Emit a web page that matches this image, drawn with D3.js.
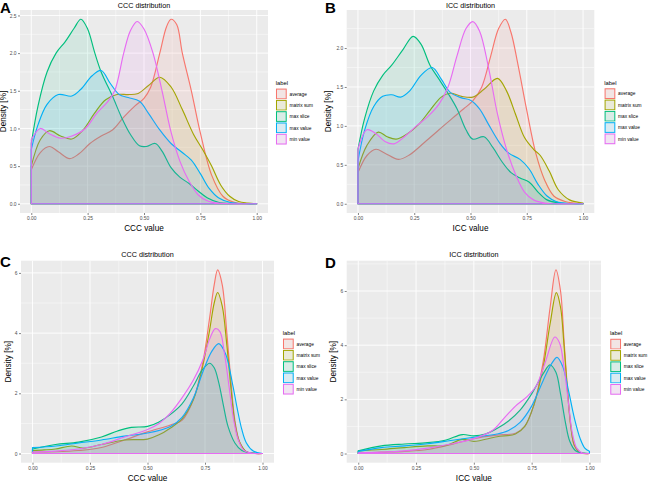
<!DOCTYPE html>
<html><head><meta charset="utf-8">
<script src="https://cdn.jsdelivr.net/npm/d3@7"></script>
<style>body{margin:0;background:#fff}svg{display:block}text{font-family:"Liberation Sans",Arial,sans-serif}</style>
</head><body><svg id="c" width="650" height="481"></svg>
<script>
// ---------------- data ----------------
const labels = ["average", "matrix sum", "max slice", "max value", "min value"];
const colors = ["#F8766D", "#A3A500", "#00BF7D", "#00B0F6", "#E76BF3"];
const xTicks = [0, 0.25, 0.5, 0.75, 1];
const xTickLabels = ["0.00", "0.25", "0.50", "0.75", "1.00"];
const yTicksA = [0, 0.5, 1, 1.5, 2, 2.5];
const yTicksB = [0, 0.5, 1, 1.5, 2];
const yTicksC = [0, 2, 4, 6];
const yTicksD = [0, 2, 4, 6];

// Panel A: CCC distribution  [value, density]
const A_average = [[0,0.45],[0.04,0.68],[0.08,0.76],[0.12,0.69],[0.17,0.6],[0.21,0.66],[0.26,0.8],[0.31,0.9],[0.36,0.98],[0.41,1.15],[0.46,1.3],[0.5,1.4],[0.53,1.55],[0.57,2.0],[0.6,2.35],[0.62,2.45],[0.645,2.38],[0.67,2.0],[0.71,1.5],[0.75,0.94],[0.8,0.38],[0.85,0.1],[0.9,0.02],[1,0]];
const A_matrix = [[0,0.5],[0.04,0.85],[0.08,0.97],[0.13,0.9],[0.18,0.86],[0.23,0.98],[0.28,1.2],[0.33,1.38],[0.38,1.45],[0.43,1.45],[0.47,1.46],[0.52,1.57],[0.57,1.68],[0.62,1.55],[0.67,1.25],[0.72,0.92],[0.76,0.72],[0.8,0.5],[0.84,0.25],[0.88,0.1],[0.92,0.03],[0.96,0.01],[1,0]];
const A_maxslice = [[0,0.8],[0.03,1.3],[0.07,1.75],[0.11,2.0],[0.15,2.15],[0.19,2.33],[0.22,2.45],[0.25,2.32],[0.28,2.02],[0.31,1.75],[0.36,1.43],[0.4,1.15],[0.44,0.92],[0.48,0.77],[0.51,0.76],[0.55,0.8],[0.58,0.7],[0.62,0.48],[0.66,0.35],[0.7,0.27],[0.74,0.17],[0.78,0.08],[0.83,0.02],[0.9,0.003],[1,0]];
const A_maxvalue = [[0,0.72],[0.03,1.05],[0.07,1.32],[0.12,1.45],[0.18,1.43],[0.22,1.52],[0.27,1.7],[0.31,1.77],[0.35,1.6],[0.39,1.45],[0.43,1.41],[0.48,1.36],[0.52,1.2],[0.57,0.98],[0.62,0.8],[0.67,0.68],[0.71,0.58],[0.75,0.4],[0.79,0.2],[0.83,0.08],[0.88,0.02],[0.95,0],[1,0]];
const A_minvalue = [[0,0.85],[0.04,1.0],[0.08,0.93],[0.13,0.87],[0.18,0.9],[0.24,1.0],[0.29,1.2],[0.34,1.36],[0.37,1.5],[0.41,2.0],[0.44,2.3],[0.47,2.42],[0.5,2.32],[0.54,2.0],[0.58,1.5],[0.62,0.95],[0.66,0.56],[0.7,0.3],[0.74,0.12],[0.78,0.04],[0.83,0.008],[1,0]];

// Panel B: ICC distribution
const B_average = [[0,0.4],[0.04,0.62],[0.08,0.7],[0.12,0.65],[0.18,0.57],[0.23,0.63],[0.3,0.8],[0.36,0.95],[0.42,1.1],[0.47,1.22],[0.51,1.32],[0.55,1.5],[0.59,1.9],[0.625,2.25],[0.655,2.37],[0.68,2.2],[0.71,1.8],[0.75,1.2],[0.79,0.65],[0.83,0.3],[0.87,0.1],[0.92,0.03],[1,0]];
const B_matrix = [[0,0.45],[0.04,0.75],[0.09,0.92],[0.13,0.86],[0.17,0.83],[0.22,0.9],[0.27,1.02],[0.32,1.2],[0.37,1.37],[0.41,1.42],[0.46,1.38],[0.51,1.37],[0.56,1.47],[0.62,1.61],[0.66,1.45],[0.7,1.15],[0.74,0.85],[0.78,0.7],[0.81,0.62],[0.85,0.42],[0.89,0.18],[0.94,0.05],[1,0.01]];
const B_maxslice = [[0,0.7],[0.03,1.1],[0.07,1.45],[0.11,1.65],[0.15,1.78],[0.2,1.98],[0.245,2.15],[0.28,2.05],[0.32,1.78],[0.36,1.6],[0.4,1.42],[0.44,1.22],[0.48,0.95],[0.51,0.83],[0.56,0.86],[0.6,0.72],[0.64,0.54],[0.68,0.4],[0.72,0.33],[0.76,0.28],[0.8,0.15],[0.84,0.05],[0.9,0.01],[1,0]];
const B_maxvalue = [[0,0.55],[0.03,0.95],[0.07,1.25],[0.11,1.38],[0.15,1.4],[0.19,1.37],[0.23,1.45],[0.28,1.65],[0.33,1.75],[0.37,1.6],[0.41,1.43],[0.46,1.36],[0.5,1.33],[0.54,1.22],[0.58,1.02],[0.63,0.78],[0.67,0.65],[0.72,0.57],[0.76,0.45],[0.8,0.25],[0.84,0.1],[0.88,0.03],[0.95,0],[1,0]];
const B_minvalue = [[0,0.7],[0.04,0.95],[0.08,0.9],[0.12,0.8],[0.16,0.77],[0.21,0.87],[0.26,1.0],[0.31,1.12],[0.36,1.28],[0.4,1.5],[0.44,1.9],[0.48,2.25],[0.51,2.34],[0.54,2.22],[0.58,1.75],[0.62,1.15],[0.66,0.7],[0.7,0.38],[0.74,0.15],[0.78,0.05],[0.83,0.01],[1,0]];

// Panel C: CCC distribution
const C_average = [[0,0.05],[0.1,0.06],[0.2,0.1],[0.3,0.2],[0.4,0.45],[0.5,0.72],[0.6,0.95],[0.65,1.1],[0.7,1.8],[0.74,3.0],[0.77,4.5],[0.79,5.6],[0.805,6.1],[0.825,5.6],[0.845,4.0],[0.865,2.2],[0.88,1.1],[0.9,0.4],[0.93,0.06],[0.97,0],[1,0]];
const C_matrix = [[0,0.1],[0.05,0.12],[0.1,0.15],[0.17,0.25],[0.22,0.18],[0.3,0.3],[0.4,0.45],[0.5,0.48],[0.55,0.62],[0.6,0.85],[0.65,1.15],[0.7,1.8],[0.74,2.9],[0.77,4.1],[0.79,5.0],[0.805,5.35],[0.825,4.9],[0.845,3.6],[0.865,2.0],[0.88,1.0],[0.9,0.38],[0.93,0.06],[0.97,0],[1,0]];
const C_maxslice = [[0,0.15],[0.1,0.3],[0.2,0.38],[0.3,0.55],[0.37,0.75],[0.43,0.87],[0.5,0.9],[0.55,1.05],[0.6,1.3],[0.65,1.65],[0.7,2.25],[0.74,2.8],[0.77,3.0],[0.79,2.85],[0.81,2.35],[0.83,1.6],[0.85,0.9],[0.88,0.35],[0.91,0.1],[0.95,0.02],[1,0]];
const C_maxvalue = [[0,0.2],[0.1,0.25],[0.2,0.35],[0.3,0.45],[0.4,0.58],[0.5,0.68],[0.6,0.9],[0.65,1.2],[0.7,1.85],[0.74,2.7],[0.78,3.4],[0.81,3.65],[0.84,3.3],[0.87,2.3],[0.89,1.5],[0.91,0.8],[0.93,0.35],[0.96,0.08],[1,0]];
const C_minvalue = [[0,0.05],[0.1,0.08],[0.2,0.15],[0.3,0.3],[0.4,0.55],[0.5,0.8],[0.55,1.0],[0.6,1.35],[0.65,1.85],[0.7,2.45],[0.74,3.1],[0.77,3.8],[0.795,4.15],[0.815,4.05],[0.835,3.3],[0.855,2.2],[0.875,1.1],[0.895,0.45],[0.92,0.1],[0.96,0.01],[1,0]];

// Panel D: ICC distribution
const D_average = [[0,0.02],[0.1,0.05],[0.2,0.08],[0.3,0.15],[0.4,0.33],[0.5,0.55],[0.6,0.68],[0.68,0.75],[0.72,1.0],[0.76,1.8],[0.8,3.4],[0.83,5.4],[0.855,6.78],[0.875,6.0],[0.89,4.2],[0.905,2.4],[0.92,1.0],[0.935,0.3],[0.96,0.04],[1,0]];
const D_matrix = [[0,0.1],[0.1,0.15],[0.2,0.22],[0.3,0.28],[0.38,0.3],[0.45,0.52],[0.5,0.45],[0.6,0.62],[0.68,0.72],[0.72,1.0],[0.76,1.8],[0.8,3.2],[0.83,4.8],[0.857,5.94],[0.875,5.4],[0.89,4.0],[0.905,2.3],[0.92,0.95],[0.935,0.3],[0.96,0.04],[1,0]];
const D_maxslice = [[0,0.1],[0.1,0.28],[0.2,0.35],[0.3,0.4],[0.38,0.5],[0.45,0.7],[0.5,0.65],[0.55,0.72],[0.6,0.92],[0.65,1.2],[0.7,1.6],[0.75,2.2],[0.8,2.95],[0.83,3.27],[0.855,3.0],[0.875,2.2],[0.895,1.2],[0.915,0.45],[0.94,0.1],[0.97,0.02],[1,0]];
const D_maxvalue = [[0,0.08],[0.1,0.22],[0.2,0.28],[0.3,0.36],[0.4,0.48],[0.5,0.6],[0.6,0.72],[0.65,0.85],[0.7,1.15],[0.75,1.75],[0.8,2.7],[0.835,3.3],[0.86,3.55],[0.885,3.2],[0.91,2.3],[0.935,1.3],[0.96,0.55],[0.98,0.2],[1,0.08]];
const D_minvalue = [[0,0.03],[0.1,0.05],[0.2,0.1],[0.3,0.2],[0.4,0.35],[0.5,0.55],[0.58,0.85],[0.63,1.3],[0.68,1.75],[0.73,2.1],[0.77,2.5],[0.81,3.4],[0.85,4.3],[0.87,4.1],[0.89,3.2],[0.91,1.8],[0.925,0.8],[0.945,0.2],[0.97,0.02],[1,0]];

// ---------------- layout ----------------
const panels = [
  {letter:"A", title:"CCC distribution", xlab:"CCC value", series:[A_average,A_matrix,A_maxslice,A_maxvalue,A_minvalue], yTicks:yTicksA, yFmt:d3.format(".1f"),
   box:[20,268,10,213], ox:0, titleY:8, xlabY:231, ylabX:6, leg:[275.7,88.3], letterY:12.5},
  {letter:"B", title:"ICC distribution", xlab:"ICC value", series:[B_average,B_matrix,B_maxslice,B_maxvalue,B_minvalue], yTicks:yTicksB, yFmt:d3.format(".1f"),
   box:[346.7,594.3,10,213], ox:325, titleY:8, xlabY:231, ylabX:331, leg:[604.3,88], letterY:12.5},
  {letter:"C", title:"CCC distribution", xlab:"CCC value", series:[C_average,C_matrix,C_maxslice,C_maxvalue,C_minvalue], yTicks:yTicksC, yFmt:d3.format("d"),
   box:[21,274,260.7,462.7], ox:0, titleY:257, xlabY:480.5, ylabX:11, leg:[282.7,338.3], letterY:267},
  {letter:"D", title:"ICC distribution", xlab:"ICC value", series:[D_average,D_matrix,D_maxslice,D_maxvalue,D_minvalue], yTicks:yTicksD, yFmt:d3.format("d"),
   box:[346.7,601,260.7,462.7], ox:325, titleY:257, xlabY:480.5, ylabX:336, leg:[610,338.5], letterY:267.5}
];

const svg = d3.select("#c");

panels.forEach(p => {
  const [x0,x1,y0,y1] = p.box;
  const ymax = d3.max(p.series, s => d3.max(s, d => d[1]));
  const x = d3.scaleLinear().domain([-0.05, 1.05]).range([x0, x1]);
  const y = d3.scaleLinear().domain([-0.05*ymax, ymax*1.05]).range([y1, y0]);
  const g = svg.append("g");

  g.append("rect").attr("x",x0).attr("y",y0).attr("width",x1-x0).attr("height",y1-y0).attr("fill","#EBEBEB");

  const xMinor = xTicks.slice(1).map((t,i)=> (t+xTicks[i])/2);
  const step = p.yTicks[1]-p.yTicks[0];
  const yMinor = p.yTicks.map(t=>t+step/2).filter(v=>v<y.domain()[1]);
  g.selectAll(".xmin").data(xMinor).join("line").attr("x1",d=>x(d)).attr("x2",d=>x(d)).attr("y1",y0).attr("y2",y1).attr("stroke","#fff").attr("stroke-width",0.45);
  g.selectAll(".ymin").data(yMinor).join("line").attr("y1",d=>y(d)).attr("y2",d=>y(d)).attr("x1",x0).attr("x2",x1).attr("stroke","#fff").attr("stroke-width",0.45);
  g.selectAll(".xmaj").data(xTicks).join("line").attr("x1",d=>x(d)).attr("x2",d=>x(d)).attr("y1",y0).attr("y2",y1).attr("stroke","#fff").attr("stroke-width",0.9);
  g.selectAll(".ymaj").data(p.yTicks).join("line").attr("y1",d=>y(d)).attr("y2",d=>y(d)).attr("x1",x0).attr("x2",x1).attr("stroke","#fff").attr("stroke-width",0.9);

  const area = d3.area().x(d=>x(d[0])).y0(y(0)).y1(d=>y(Math.max(0,d[1]))).curve(d3.curveCatmullRom.alpha(0.5));
  p.series.forEach((s,i) => {
    g.append("path").attr("d", area(s)).attr("fill", colors[i]).attr("fill-opacity",0.1)
      .attr("stroke", colors[i]).attr("stroke-width",1.15).attr("stroke-linejoin","round");
  });

  const xa = g.append("g").attr("transform",`translate(0,${y1})`)
    .call(d3.axisBottom(x).tickValues(xTicks).tickFormat((d,i)=>xTickLabels[i]).tickSize(2).tickPadding(1.5));
  const ya = g.append("g").attr("transform",`translate(${x0},0)`)
    .call(d3.axisLeft(y).tickValues(p.yTicks).tickFormat(p.yFmt).tickSize(2).tickPadding(1.5));
  [xa,ya].forEach(a=>{
    a.select(".domain").remove();
    a.selectAll(".tick line").attr("stroke","#333").attr("stroke-width",0.6);
    a.selectAll(".tick text").attr("fill","#4D4D4D").style("font-size","4.9px").style("font-family","Liberation Sans, Arial, sans-serif");
  });

  const cx = (x0+x1)/2, cy = (y0+y1)/2;
  const t = g.append("text").attr("x",cx).attr("y",p.titleY).attr("text-anchor","middle").style("font-size","8px").attr("fill","#000").text(p.title);
  const tl = t.node().getComputedTextLength();
  t.attr("textLength", tl*0.9).attr("lengthAdjust","spacingAndGlyphs");
  g.append("text").attr("x",cx).attr("y",p.xlabY).attr("text-anchor","middle").style("font-size","8.2px").attr("fill","#000").text(p.xlab);
  g.append("text").attr("transform",`translate(${p.ylabX},${cy}) rotate(-90)`).attr("text-anchor","middle").style("font-size","8.2px").attr("fill","#000").text("Density [%]");
  g.append("text").attr("x",p.ox).attr("y",p.letterY).style("font-size","15px").style("font-weight","bold").attr("fill","#000").text(p.letter);

  const [lx,ly] = p.leg, ks = 11.3;
  g.append("text").attr("x",lx).attr("y",ly-3.5).style("font-size","5.8px").attr("fill","#000").text("label");
  labels.forEach((lab,i)=>{
    const ky = ly + i*ks;
    g.append("rect").attr("x",lx).attr("y",ky).attr("width",ks).attr("height",ks).attr("fill","#F2F2F2").attr("stroke","#fff").attr("stroke-width",0.5);
    g.append("rect").attr("x",lx+0.8).attr("y",ky+0.8).attr("width",ks-1.6).attr("height",ks-1.6)
      .attr("fill",colors[i]).attr("fill-opacity",0.1).attr("stroke",colors[i]).attr("stroke-width",1);
    g.append("text").attr("x",lx+ks+2.5).attr("y",ky+ks/2+1.7).style("font-size","4.8px").attr("fill","#000").text(lab);
  });
});
</script></body></html>
